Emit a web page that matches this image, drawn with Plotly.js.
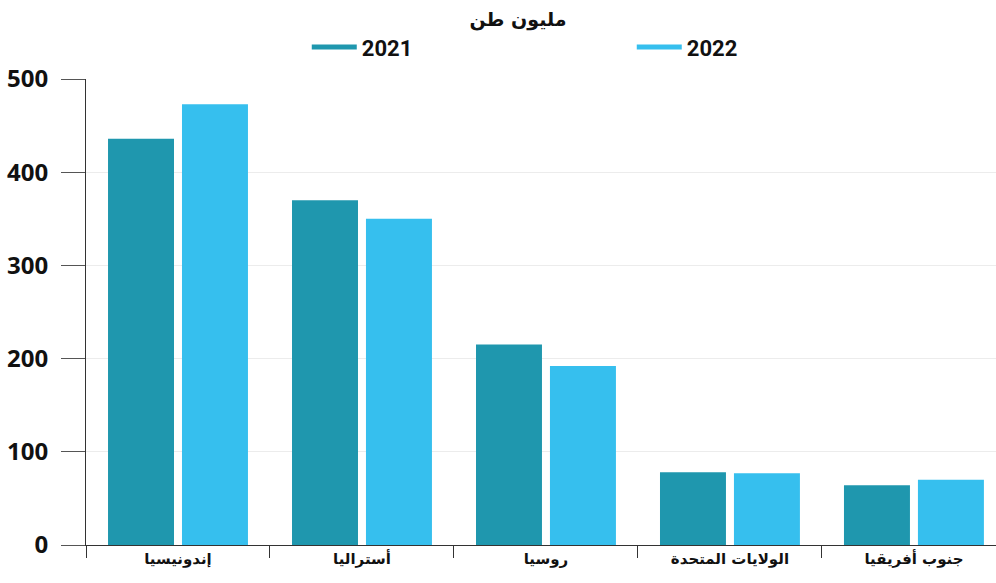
<!DOCTYPE html>
<html>
<head>
<meta charset="utf-8">
<script src="https://cdn.plot.ly/plotly-3.0.1.min.js"></script>
<style>html,body{margin:0;padding:0;background:#fff;}#chart{width:996px;height:583px;}</style>
</head>
<body>
<div id="chart"></div>
<script>
const categories = ["إندونيسيا", "أستراليا", "روسيا", "الولايات المتحدة", "جنوب أفريقيا"];
const values2021 = [436, 370, 215, 78, 64];
const values2022 = [473, 350, 192, 77, 70];
const seriesNames = ["2021", "2022"];
const yTicks = [0, 100, 200, 300, 400, 500];

const c2021 = "#1f97ae";
const c2022 = "#36bfee";

const traces = [
  {type: "bar", x: categories, y: values2021, name: seriesNames[0], marker: {color: c2021}, showlegend: false, hoverinfo: "y"},
  {type: "bar", x: categories, y: values2022, name: seriesNames[1], marker: {color: c2022}, showlegend: false, hoverinfo: "y"},
  {type: "scatter", mode: "lines", x: [null], y: [null], name: seriesNames[0], line: {color: c2021, width: 5}, showlegend: true},
  {type: "scatter", mode: "lines", x: [null], y: [null], name: seriesNames[1], line: {color: c2022, width: 5}, showlegend: true}
];

const layout = {
  width: 996, height: 583,
  margin: {l: 86, r: 0, t: 79, b: 38, autoexpand: false},
  paper_bgcolor: "#fff", plot_bgcolor: "#fff",
  barmode: "group", bargap: 0.196, bargroupgap: 0.108,
  title: {text: "<b>مليون طن</b>", x: 0.52, xanchor: "center", y: 0.966, yanchor: "middle",
          font: {family: "DejaVu Sans", size: 19, color: "#111"}},
  showlegend: true,
  legend: {orientation: "h", x: 0.308, xanchor: "left", y: 0.919, yanchor: "middle",
           xref: "container", yref: "container", itemwidth: 45,
           entrywidth: 265, entrywidthmode: "pixels",
           font: {family: "Roboto", size: 22, color: "#111", weight: "bold"}, traceorder: "normal"},
  xaxis: {type: "category", range: [-0.5, 4.446], showgrid: false, tickangle: 0,
          showline: true, linecolor: "#333", linewidth: 1,
          ticks: "outside", ticklen: 12, tickcolor: "#333", tickson: "boundaries",
          tickfont: {family: "DejaVu Sans", size: 15, color: "#111", weight: "bold"}, fixedrange: true},
  yaxis: {range: [0, 500], tickvals: yTicks, ticktext: yTicks.map(String),
          showgrid: true, gridcolor: "#ececec", gridwidth: 1, zeroline: false,
          showline: true, linecolor: "#333", linewidth: 1,
          ticks: "outside", ticklen: 24, tickcolor: "#555", ticklabelstandoff: 8,
          tickfont: {family: "Open Sans", size: 24, color: "#111", weight: "bold"}, fixedrange: true}
};

Plotly.newPlot("chart", traces, layout, {displayModeBar: false, staticPlot: true});
</script>
</body>
</html>
